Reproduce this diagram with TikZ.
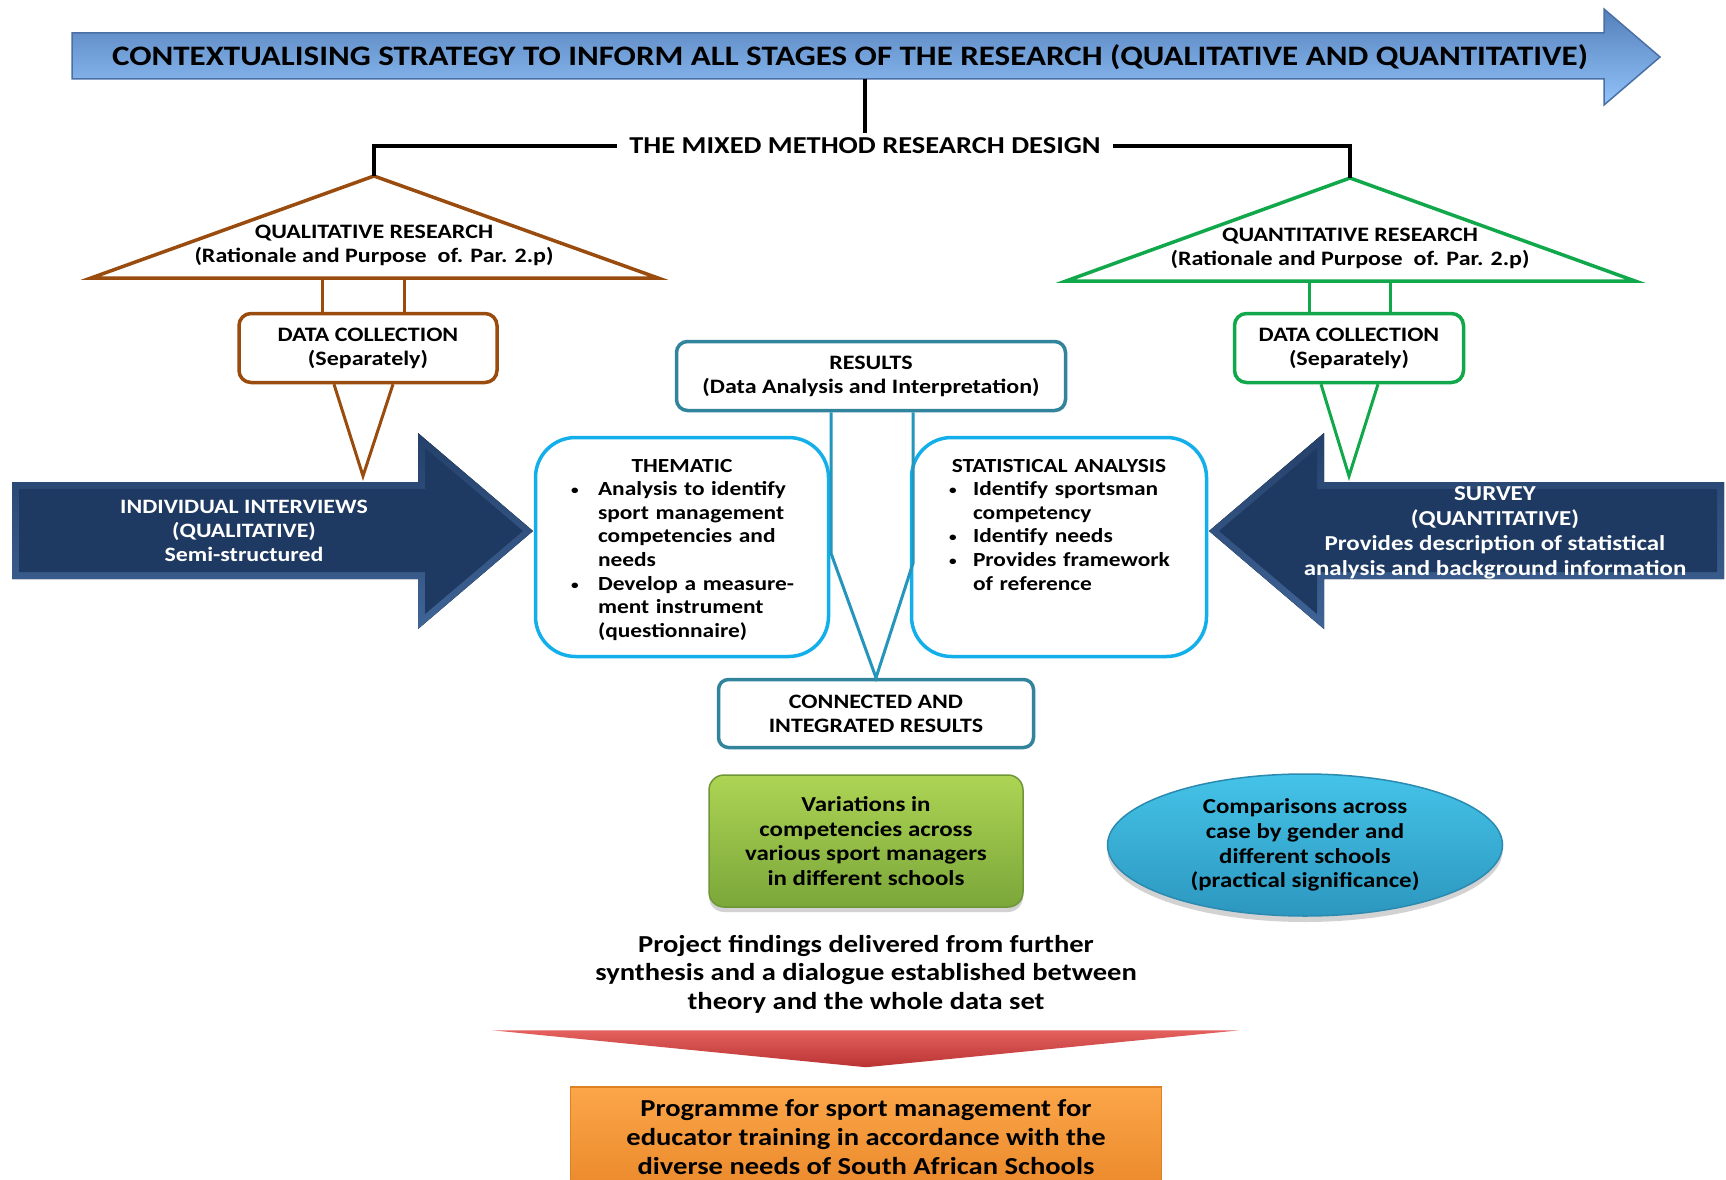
\documentclass[tikz,border=0pt]{standalone}
\usepackage{fontspec}
\setmainfont{Carlito}[FakeStretch=1.17]
\usepackage{xcolor}
\usepackage{tikz}
\usetikzlibrary{positioning,calc,shadows,shapes.geometric}
\tikzset{>=latex}

\definecolor{TitleTop}{HTML}{5580BA}
\definecolor{TitleBottom}{HTML}{92C3FA}
\definecolor{TitleEdge}{HTML}{4A70A6}
\definecolor{QualBrown}{HTML}{9A4B0E}
\definecolor{QuantGreen}{HTML}{10A84B}
\definecolor{ResultTeal}{HTML}{31849B}
\definecolor{AnalysisCyan}{HTML}{12AFEA}
\definecolor{Navy}{HTML}{1F3A62}
\definecolor{NavyTop}{HTML}{24406A}
\definecolor{NavyBottom}{HTML}{3F6496}
\definecolor{LeafTop}{HTML}{ADD454}
\definecolor{LeafBottom}{HTML}{7BA73A}
\definecolor{LeafEdge}{HTML}{6E9636}
\definecolor{SkyTop}{HTML}{45C3E8}
\definecolor{SkyBottom}{HTML}{2C97BF}
\definecolor{SkyEdge}{HTML}{2A8AB0}
\definecolor{RedTop}{HTML}{E4615E}
\definecolor{RedBottom}{HTML}{B93333}
\definecolor{OrangeTop}{HTML}{FBA649}
\definecolor{OrangeBottom}{HTML}{EB8A2C}
\definecolor{OrangeEdge}{HTML}{E08024}

\newcommand\boxfont{\fontsize{20.5}{24}\selectfont\bfseries}
\newcommand\bulletline[2]{\par\hangindent=#1\hangafter=1\noindent\makebox[#1][l]{\hspace{2pt}\raisebox{1pt}{\fontsize{13}{13}\selectfont\textbullet}}#2\par}

\begin{document}
\begin{tikzpicture}[x=1pt, y=-1pt,
plaintext/.style={inner sep=0pt, align=center, font=\boxfont},
qualbox/.style={draw=QualBrown, line width=3.5pt, rounded corners=12pt, fill=white, minimum width=258pt, minimum height=69pt, align=center, font=\boxfont},
quantbox/.style={draw=QuantGreen, line width=3.5pt, rounded corners=12pt, fill=white, minimum width=229pt, minimum height=69pt, align=center, font=\boxfont},
resultbox/.style={draw=ResultTeal, line width=3.5pt, rounded corners=11pt, fill=white, align=center, font=\boxfont},
analysisbox/.style={draw=AnalysisCyan, line width=3.5pt, rounded corners=40pt, fill=white, minimum height=219pt},
analysistext/.style={inner sep=0pt, align=left, font=\fontsize{20}{23.6}\selectfont\bfseries},
qualline/.style={draw=QualBrown, line width=3pt},
quantline/.style={draw=QuantGreen, line width=3pt},
resultline/.style={draw=ResultTeal!60!AnalysisCyan, line width=3pt},
designline/.style={draw=black, line width=3.5pt},
navyarrow/.style={top color=NavyTop, bottom color=NavyBottom},
]
\path[use as bounding box, fill=white] (0,0) rectangle (1726,1180);

%Title arrow
\shade[top color=TitleTop, bottom color=TitleBottom, draw=TitleEdge, line width=1.5pt]
  (72,33) -- (1604,33) -- (1604,9) -- (1660,57) -- (1604,105) -- (1604,79) -- (72,79) -- cycle;
\coordinate (TitleBase) at (865,79);
\node[plaintext, font=\fontsize{28.2}{30}\selectfont\bfseries] (Contextualising) at (850,57)
  {CONTEXTUALISING STRATEGY TO INFORM ALL STAGES OF THE RESEARCH (QUALITATIVE AND QUANTITATIVE)};

%Design
\node[plaintext, inner xsep=12pt, inner ysep=5pt, font=\fontsize{24.3}{26}\selectfont\bfseries] (MixedDesign) at (865,146) {THE MIXED METHOD RESEARCH DESIGN};
\draw[qualline, line width=3.5pt] (374,176) coordinate (QualApex) -- (658,278) -- (91,278) -- cycle;
\draw[quantline, line width=3.5pt] (1350,178) coordinate (QuantApex) -- (1635,281) -- (1066,281) -- cycle;
\draw[designline] (TitleBase) -- (MixedDesign.north);
\draw[designline] (MixedDesign.west) -| (QualApex);
\draw[designline] (MixedDesign.east) -| (QuantApex);
\node[plaintext] (QualResearch) at (374,245) {QUALITATIVE RESEARCH\\(Rationale and Purpose\ \ of. Par. 2.p)};
\node[plaintext] (QuantResearch) at (1350,248) {QUANTITATIVE RESEARCH\\(Rationale and Purpose\ \ of. Par. 2.p)};

%Data collection
\node[qualbox] (DataQual) at (368,348) {DATA COLLECTION\\(Separately)};
\node[quantbox] (DataQuant) at (1349,348) {DATA COLLECTION\\(Separately)};
\draw[qualline] ($(DataQual.north)+(-46,0)$) -- ++(0,-34);
\draw[qualline] ($(DataQual.north)+(36,0)$) -- ++(0,-34);
\draw[quantline] ($(DataQuant.north)+(-40,0)$) -- ++(0,-31);
\draw[quantline] ($(DataQuant.north)+(41,0)$) -- ++(0,-31);
\coordinate (QualTip) at (363,476);
\coordinate (QuantTip) at (1349,476);
\draw[qualline] ($(DataQual.south)+(-34,0)$) -- (QualTip) -- ($(DataQual.south)+(25,0)$);
\draw[quantline] ($(DataQuant.south)+(-28,0)$) -- (QuantTip) -- ($(DataQuant.south)+(29,0)$);

%Interview and survey arrows
\fill[navyarrow] (12,482) -- (418,482) -- (418,433) -- (533,531) -- (418,629) -- (418,579) -- (12,579) -- cycle;
\fill[Navy] (19,489) -- (425,489) -- (425,448) -- (523,531) -- (425,614) -- (425,572) -- (19,572) -- cycle;
\fill[navyarrow] (1724,482) -- (1324,482) -- (1324,433) -- (1209,531) -- (1324,629) -- (1324,579) -- (1724,579) -- cycle;
\fill[Navy] (1717,489) -- (1317,489) -- (1317,448) -- (1219,531) -- (1317,614) -- (1317,572) -- (1717,572) -- cycle;
\node[plaintext, text=white, font=\fontsize{20.4}{24}\selectfont\bfseries] (Interviews) at (244,531)
  {INDIVIDUAL INTERVIEWS\\(QUALITATIVE)\\Semi-structured};
\node[plaintext, text=white, font=\fontsize{21.3}{25}\selectfont\bfseries] (Survey) at (1495,533)
  {SURVEY\\(QUANTITATIVE)\\Provides description of statistical\\analysis and background information};

%Results
\node[analysisbox, minimum width=293pt] (Thematic) at (682,547) {};
\node[analysisbox, minimum width=295pt] (Statistical) at (1059,547) {};
\node[analysistext, text width=226pt, below=23pt of Thematic.north] (ThematicText) {%
  {\centering THEMATIC\par}
  \bulletline{29pt}{Analysis to identify\newline sport management\newline competencies and\newline needs}
  \bulletline{29pt}{Develop a measure-\newline ment instrument\newline (questionnaire)}};
\node[analysistext, text width=224pt, below=23pt of Statistical.north] (StatisticalText) {%
  {\centering STATISTICAL ANALYSIS\par}
  \bulletline{26pt}{Identify sportsman\newline competency}
  \bulletline{26pt}{Identify needs}
  \bulletline{26pt}{Provides framework\newline of reference}};
\node[resultbox, minimum width=389pt, minimum height=69pt] (Results) at (871,376) {RESULTS\\(Data Analysis and Interpretation)};
\node[resultbox, minimum width=315pt, minimum height=68pt, rounded corners=10pt] (Connected) at (876,713.5) {CONNECTED AND\\INTEGRATED RESULTS};
\draw[resultline] ($(Results.south)+(-40,0)$) -- ++(0,141) -- (Connected.north) -- ($(Results.south)+(42,151)$) -- ($(Results.south)+(42,0)$);

%Findings
\node[plaintext, font=\fontsize{21.3}{24.7}\selectfont\bfseries, top color=LeafTop, bottom color=LeafBottom, draw=LeafEdge, line width=1.5pt,
  rounded corners=15pt, minimum width=314pt, minimum height=132pt,
  drop shadow={shadow xshift=0pt, shadow yshift=-5pt, opacity=0.35}] (Variations) at (866,841)
  {Variations in\\competencies across\\various sport managers\\in different schools};
\node[plaintext, font=\fontsize{21.3}{24.7}\selectfont\bfseries, ellipse, top color=SkyTop, bottom color=SkyBottom, draw=SkyEdge, line width=1.5pt,
  minimum width=395pt, minimum height=142pt,
  drop shadow={shadow xshift=0pt, shadow yshift=-6pt, opacity=0.35}] (Comparisons) at (1305,845)
  {Comparisons across\\case by gender and\\different schools\\(practical significance)};
\node[plaintext, font=\fontsize{24.4}{28.6}\selectfont\bfseries] (Findings) at (866,974)
  {Project findings delivered from further\\synthesis and a dialogue established between\\theory and the whole data set};
\node[plaintext, font=\fontsize{24.4}{28.6}\selectfont\bfseries, top color=OrangeTop, bottom color=OrangeBottom, draw=OrangeEdge, line width=1.5pt,
  minimum width=591pt, minimum height=100pt] (Programme) at (866,1137)
  {Programme for sport management for\\educator training in accordance with the\\diverse needs of South African Schools};
\shade[top color=RedTop, bottom color=RedBottom]
  ($(Programme.north)+(-374,-56)$) -- ($(Programme.north)+(374,-56)$) -- ($(Programme.north)+(0,-19)$) -- cycle;
\end{tikzpicture}
\end{document}
